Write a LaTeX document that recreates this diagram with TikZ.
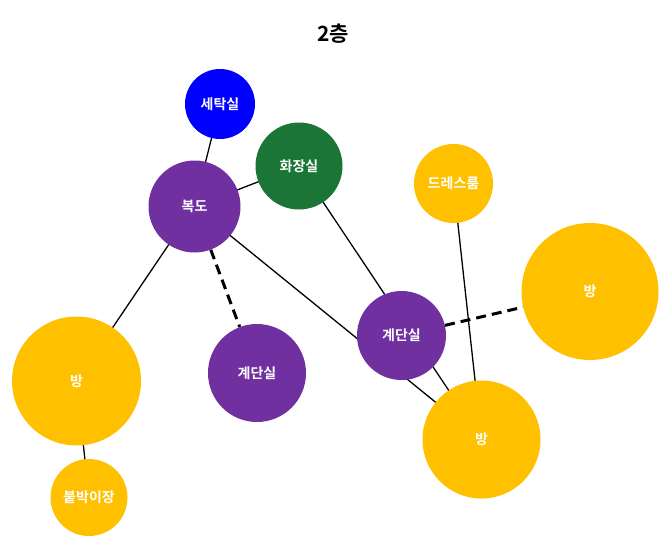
\documentclass[tikz,border=0pt]{standalone}
\usepackage{fontspec}
\newfontfamily\kr{Noto Sans CJK KR}[BoldFont={* Bold}]
\usetikzlibrary{backgrounds}
\definecolor{roomyellow}{HTML}{FFC000}
\definecolor{hallpurple}{HTML}{7030A0}
\definecolor{bathgreen}{HTML}{1B7537}
\definecolor{laundryblue}{HTML}{0000FF}
\tikzset{
  room/.style={circle, inner sep=0pt, minimum size=#1, text=white,
    font=\kr\bfseries\fontsize{14}{16}\selectfont},
  link/.style={draw=black, line width=1.3pt},
  dlink/.style={draw=black, line width=3pt, dash pattern=on 10pt off 6pt},
}
\begin{document}
\begin{tikzpicture}[x=1pt, y=-1pt]
  \useasboundingbox (0,0) rectangle (670,547);
  \node[font=\kr\bfseries\fontsize{21}{25}\selectfont] (title) at (333,34) {2층};

  \node[room=70pt, fill=laundryblue] (laundry) at (220,104) {세탁실};
  \node[room=87pt, fill=bathgreen] (bath) at (299,166) {화장실};
  \node[room=92pt, fill=hallpurple] (hall) at (194.5,206.5) {복도};
  \node[room=79pt, fill=roomyellow] (dress) at (453.5,183.5) {드레스룸};
  \node[room=137pt, fill=roomyellow] (roomR) at (590,291.5) {방};
  \node[room=89pt, fill=hallpurple] (stairR) at (401.5,335.5) {계단실};
  \node[room=98pt, fill=hallpurple] (stairM) at (257,373) {계단실};
  \node[room=129pt, fill=roomyellow] (roomL) at (76.5,381) {방};
  \node[room=118pt, fill=roomyellow] (roomB) at (481.5,439.5) {방};
  \node[room=77pt, fill=roomyellow] (closet) at (89,497.5) {붙박이장};

  \begin{pgfonlayer}{background}
    \draw[link] (laundry.center) -- (hall.center);
    \draw[link] (hall.center) -- (bath.center);
    \draw[link] (hall.center) -- (roomL.center);
    \draw[link] (hall.center) -- (roomB.center);
    \draw[link] (bath.center) -- (roomB.center);
    \draw[link] (dress.center) -- (roomB.center);
    \draw[link] (roomL.center) -- (closet.center);
    \draw[dlink] (hall) -- (stairM);
    \draw[dlink] (stairR) -- (roomR);
  \end{pgfonlayer}
\end{tikzpicture}
\end{document}
